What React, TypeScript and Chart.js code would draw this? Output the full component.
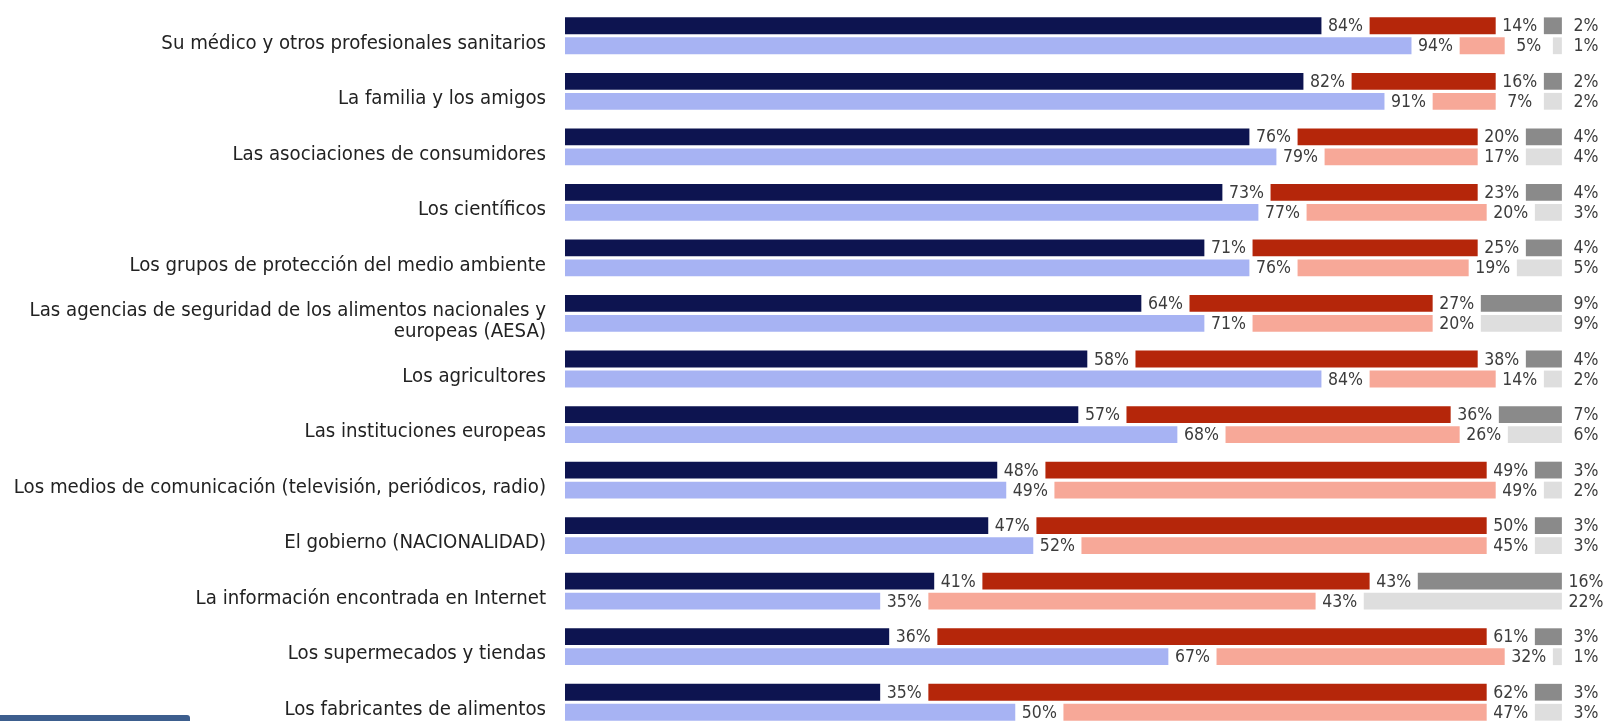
import React, { useEffect, useRef } from "react";
import { Chart, registerables } from "chart.js";

Chart.register(...registerables);

const categories: (string | string[])[] = [
  "Su médico y otros profesionales sanitarios",
  "La familia y los amigos",
  "Las asociaciones de consumidores",
  "Los científicos",
  "Los grupos de protección del medio ambiente",
  ["Las agencias de seguridad de los alimentos nacionales y", "europeas (AESA)"],
  "Los agricultores",
  "Las instituciones europeas",
  "Los medios de comunicación (televisión, periódicos, radio)",
  "El gobierno (NACIONALIDAD)",
  "La información encontrada en Internet",
  "Los supermecados y tiendas",
  "Los fabricantes de alimentos",
];

// first row of each category (dark colours)
const darkYes = [84, 82, 76, 73, 71, 64, 58, 57, 48, 47, 41, 36, 35];
const darkNo = [14, 16, 20, 23, 25, 27, 38, 36, 49, 50, 43, 61, 62];
const darkDk = [2, 2, 4, 4, 4, 9, 4, 7, 3, 3, 16, 3, 3];
// second row of each category (light colours)
const lightYes = [94, 91, 79, 77, 76, 71, 84, 68, 49, 52, 35, 67, 50];
const lightNo = [5, 7, 17, 20, 19, 20, 14, 26, 49, 45, 43, 32, 47];
const lightDk = [1, 2, 4, 3, 5, 9, 2, 6, 2, 3, 22, 1, 3];

const GAP = 5.35; // label room after each segment, in axis units
const X_MAX = 115.6;
const FONT = '"Liberation Sans Narrow", "DejaVu Sans Condensed", sans-serif';

function segments(a: number[], b: number[], c: number[]) {
  const s1 = a.map((v) => [0, v]);
  const s2 = a.map((v, i) => [v + GAP, v + GAP + b[i]]);
  const s3 = a.map((v, i) => [v + b[i] + 2 * GAP, v + b[i] + 2 * GAP + c[i]]);
  return [s1, s2, s3];
}

export default function App() {
  const ref = useRef<HTMLCanvasElement | null>(null);

  useEffect(() => {
    if (!ref.current) return;
    const [d1, d2, d3] = segments(darkYes, darkNo, darkDk);
    const [l1, l2, l3] = segments(lightYes, lightNo, lightDk);
    const vals = [darkYes, darkNo, darkDk, lightYes, lightNo, lightDk];

    const labelPlugin = {
      id: "segLabels",
      afterDatasetsDraw(chart: any) {
        const ctx = chart.ctx;
        const xs = chart.scales.x;
        ctx.save();
        ctx.font = "17.5px " + FONT;
        ctx.fillStyle = "#3c3c3c";
        ctx.textAlign = "center";
        ctx.textBaseline = "middle";
        chart.data.datasets.forEach((ds: any, di: number) => {
          const meta = chart.getDatasetMeta(di);
          meta.data.forEach((bar: any, i: number) => {
            const end = ds.data[i][1];
            const x = xs.getPixelForValue(end + GAP / 2);
            ctx.fillText(vals[di][i] + "%", x, bar.y + 1);
          });
        });
        ctx.restore();
      },
    };

    const common = {
      categoryPercentage: 0.72,
      barPercentage: 0.84,
      borderWidth: 0,
    };

    const chart = new Chart(ref.current, {
      type: "bar",
      data: {
        labels: categories,
        datasets: [
          { ...common, data: d1, backgroundColor: "#0d1450", stack: "a" },
          { ...common, data: d2, backgroundColor: "#b5260a", stack: "a" },
          { ...common, data: d3, backgroundColor: "#8a8a8a", stack: "a" },
          { ...common, data: l1, backgroundColor: "#a7b3f3", stack: "b" },
          { ...common, data: l2, backgroundColor: "#f7a898", stack: "b" },
          { ...common, data: l3, backgroundColor: "#dedede", stack: "b" },
        ] as any,
      },
      options: {
        indexAxis: "y",
        animation: false,
        responsive: false,
        maintainAspectRatio: false,
        layout: { padding: { top: 8, bottom: 10, left: 0, right: 0 } },
        plugins: {
          legend: { display: false },
          tooltip: { enabled: false },
        },
        scales: {
          x: {
            display: false,
            min: 0,
            max: X_MAX,
            stacked: false,
          },
          y: {
            grid: { display: false, drawTicks: false },
            border: { display: false },
            ticks: {
              padding: 19,
              labelOffset: 7.5,
              color: "#222",
              font: {
                family: FONT,
                size: 20.2,
                lineHeight: 1.05,
              },
            },
            afterFit(scale: any) {
              scale.width = 565;
              scale.paddingTop = 0;
              scale.paddingBottom = 0;
            },
          },
        },
      } as any,
      plugins: [labelPlugin],
    });
    return () => chart.destroy();
  }, []);

  return (
    <div
      style={{
        position: "fixed",
        left: 0,
        top: 0,
        width: 1606,
        height: 721,
        overflow: "hidden",
        background: "#fff",
      }}
    >
      <canvas ref={ref} width={1606} height={740} style={{ display: "block" }} />
      <div
        style={{
          position: "absolute",
          left: 0,
          top: 715,
          width: 190,
          height: 10,
          background: "#3d5e8e",
          borderTopRightRadius: 3,
        }}
      />
    </div>
  );
}
